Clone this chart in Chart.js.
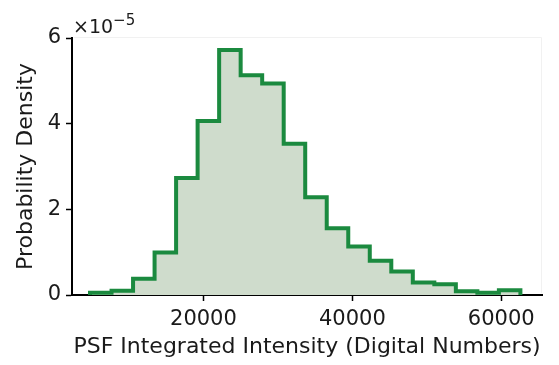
<!DOCTYPE html>
<html>
<head>
<meta charset="utf-8">
<script src="https://cdn.jsdelivr.net/npm/chart.js@4/dist/chart.umd.min.js"></script>
<style>
  html, body { margin: 0; padding: 0; background: #fff; }
  #wrap { width: 559px; height: 365px; }
</style>
</head>
<body>
<div id="wrap"><canvas id="c" width="559" height="365"></canvas></div>
<script>
// Histogram bin edges (PSF integrated intensity, digital numbers)
const binEdges = [4770, 7660, 10550, 13440, 16330, 19220, 22110, 25000, 27890, 30780,
                  33670, 36560, 39450, 42340, 45230, 48120, 51010, 53900, 56790, 59680, 62570];
// Probability density per bin, in units of 1e-5
const densityE5 = [0.05, 0.10, 0.38, 0.99, 2.73, 4.06, 5.72, 5.13, 4.94, 3.53,
                   2.28, 1.56, 1.13, 0.80, 0.55, 0.29, 0.25, 0.09, 0.05, 0.11];
const xTicks = [20000, 40000, 60000];
const yTicks = [0, 2, 4, 6];
const xLabel = 'PSF Integrated Intensity (Digital Numbers)';
const yLabel = 'Probability Density';

const points = [{ x: binEdges[0], y: 0 }];
densityE5.forEach((v, i) => points.push({ x: binEdges[i], y: v }));
points.push({ x: binEdges[binEdges.length - 1], y: 0 });

const FONT = "'DejaVu Sans', 'Liberation Sans', Arial, sans-serif";
Chart.defaults.font.family = FONT;
Chart.defaults.color = '#1a1a1a';

const exponentPlugin = {
  id: 'exponent',
  afterDraw(chart) {
    const { ctx, chartArea } = chart;
    ctx.save();
    // faint frame top/right
    ctx.strokeStyle = '#f1f1f1';
    ctx.lineWidth = 1;
    ctx.beginPath();
    ctx.moveTo(chartArea.left + 2, chartArea.top - 0.5);
    ctx.lineTo(chartArea.right - 0.5, chartArea.top - 0.5);
    ctx.lineTo(chartArea.right - 0.5, chartArea.bottom - 2);
    ctx.stroke();
    ctx.fillStyle = '#1a1a1a';
    ctx.textBaseline = 'alphabetic';
    ctx.textAlign = 'left';
    ctx.font = '19px ' + FONT;
    const base = chartArea.top - 5;
    ctx.fillText('\u00d710', chartArea.left + 1, base);
    const w = ctx.measureText('\u00d710').width;
    ctx.font = '15px ' + FONT;
    ctx.fillText('\u22125', chartArea.left + 1 + w, base - 8);
    ctx.restore();
  }
};

new Chart(document.getElementById('c'), {
  type: 'line',
  data: {
    datasets: [{
      data: points,
      stepped: 'before',
      borderColor: '#1b8a3f',
      borderWidth: 4,
      backgroundColor: '#cfdccc',
      fill: 'origin',
      pointRadius: 0,
      borderJoinStyle: 'miter',
      borderCapStyle: 'butt',
      tension: 0
    }]
  },
  options: {
    responsive: false,
    animation: false,
    events: [],
    layout: { padding: { top: 38, right: 17, left: 0, bottom: 0 } },
    plugins: { legend: { display: false }, tooltip: { enabled: false } },
    scales: {
      x: {
        type: 'linear',
        min: 2350,
        max: 65470,
        afterBuildTicks: (s) => { s.ticks = xTicks.map(v => ({ value: v })); },
        afterFit: (s) => { s.height = 70; },
        grid: { drawOnChartArea: false, drawTicks: true, tickLength: 6, tickColor: '#000', tickWidth: 1.5 },
        border: { display: true, color: '#000', width: 2 },
        ticks: { font: { size: 21 }, padding: 6, maxRotation: 0, callback: (v) => String(v), color: '#1a1a1a' },
        title: { display: true, text: xLabel, font: { size: 22 }, padding: { top: 0, bottom: 5 }, color: '#1a1a1a' }
      },
      y: {
        type: 'linear',
        min: 0,
        max: 6,
        afterBuildTicks: (s) => { s.ticks = yTicks.map(v => ({ value: v })); },
        afterFit: (s) => { s.width = 72; },
        grid: { drawOnChartArea: false, drawTicks: true, tickLength: 6, tickColor: '#000', tickWidth: 1.5 },
        border: { display: true, color: '#000', width: 2 },
        ticks: { font: { size: 21 }, padding: 5, callback: (v) => String(v), color: '#1a1a1a' },
        title: { display: true, text: yLabel, font: { size: 22 }, padding: { top: 13, bottom: 0 }, color: '#1a1a1a' }
      }
    }
  },
  plugins: [exponentPlugin]
});
</script>
</body>
</html>
